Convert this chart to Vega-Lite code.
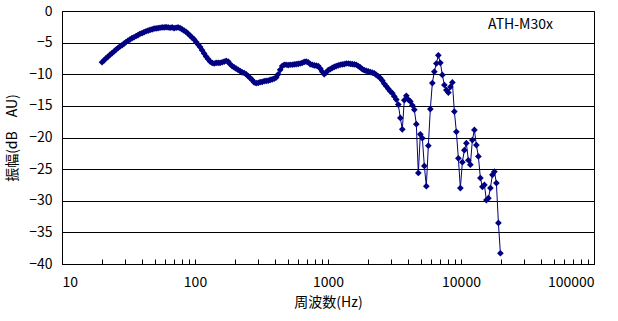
{
  "$schema": "https://vega.github.io/schema/vega-lite/v6.json",
  "width": 532,
  "height": 253,
  "autosize": "none",
  "padding": {"left": 62, "top": 11, "right": 24, "bottom": 57},
  "background": "white",
  "config": {
    "view": {"stroke": "black", "strokeWidth": 1},
    "font": "Noto Sans CJK JP",
    "axis": {"labelFont": "Noto Sans CJK JP", "titleFont": "Noto Sans CJK JP", "labelColor": "black", "titleColor": "black", "labelFontSize": 14, "titleFontSize": 14, "titleFontWeight": "normal", "domainColor": "black", "tickColor": "black"}
  },
  "datasets": {
    "fr": [
      {"f":20,"d":-8.1},{"f":20.7,"d":-7.8},{"f":21.4,"d":-7.5},{"f":22.2,"d":-7.2},{"f":23,"d":-6.9},
      {"f":23.8,"d":-6.65},{"f":24.6,"d":-6.4},{"f":25.5,"d":-6.1},{"f":26.4,"d":-5.85},{"f":27.3,"d":-5.6},
      {"f":28.3,"d":-5.4},{"f":29.3,"d":-5.15},{"f":30.3,"d":-4.9},{"f":31.4,"d":-4.7},{"f":32.5,"d":-4.5},
      {"f":33.6,"d":-4.3},{"f":34.8,"d":-4.15},{"f":36.1,"d":-3.95},{"f":37.3,"d":-3.8},{"f":38.6,"d":-3.6},
      {"f":40,"d":-3.5},{"f":41.4,"d":-3.35},{"f":42.9,"d":-3.2},{"f":44.4,"d":-3.1},{"f":45.9,"d":-3.0},
      {"f":47.6,"d":-2.9},{"f":49.2,"d":-2.8},{"f":51,"d":-2.75},{"f":52.8,"d":-2.7},{"f":54.6,"d":-2.65},
      {"f":56.6,"d":-2.6},{"f":58.6,"d":-2.6},{"f":60.6,"d":-2.55},{"f":62.8,"d":-2.6},{"f":65,"d":-2.65},
      {"f":67.3,"d":-2.6},{"f":69.6,"d":-2.7},{"f":72.1,"d":-2.65},{"f":74.6,"d":-2.6},{"f":77.3,"d":-2.7},
      {"f":80,"d":-2.9},{"f":82.8,"d":-3.1},{"f":85.7,"d":-3.3},{"f":88.8,"d":-3.6},{"f":91.9,"d":-3.9},
      {"f":95.1,"d":-4.2},{"f":98.5,"d":-4.5},{"f":102,"d":-4.9},{"f":105.6,"d":-5.3},{"f":109.3,"d":-5.7},
      {"f":113.1,"d":-6.2},{"f":117.1,"d":-6.7},{"f":121.3,"d":-7.2},{"f":125.5,"d":-7.6},{"f":130,"d":-8.0},
      {"f":134.5,"d":-8.2},{"f":139.3,"d":-8.3},{"f":144.2,"d":-8.2},{"f":149.3,"d":-8.2},{"f":154.5,"d":-8.2},
      {"f":160,"d":-8.1},{"f":165.6,"d":-8.0},{"f":171.5,"d":-7.9},{"f":177.5,"d":-8.0},{"f":183.8,"d":-8.4},
      {"f":190.3,"d":-8.7},{"f":197,"d":-8.9},{"f":203.9,"d":-9.1},{"f":211.1,"d":-9.3},{"f":218.6,"d":-9.5},
      {"f":226.3,"d":-9.7},{"f":234.3,"d":-9.8},{"f":242.5,"d":-10.0},{"f":251.1,"d":-10.3},{"f":259.9,"d":-10.6},
      {"f":269.1,"d":-10.9},{"f":278.6,"d":-11.3},{"f":288.4,"d":-11.4},{"f":298.6,"d":-11.35},{"f":309.1,"d":-11.25},
      {"f":320,"d":-11.2},{"f":331.3,"d":-11.1},{"f":343,"d":-11.05},{"f":355.1,"d":-11.0},{"f":367.6,"d":-10.9},
      {"f":380.5,"d":-10.8},{"f":394,"d":-10.7},{"f":407.9,"d":-10.5},{"f":422.2,"d":-10.0},{"f":437.1,"d":-9.3},
      {"f":452.6,"d":-8.7},{"f":468.5,"d":-8.5},{"f":485,"d":-8.5},{"f":502.1,"d":-8.55},{"f":519.8,"d":-8.5},
      {"f":538.2,"d":-8.5},{"f":557.2,"d":-8.45},{"f":576.8,"d":-8.4},{"f":597.1,"d":-8.35},{"f":618.2,"d":-8.3},
      {"f":640,"d":-8.2},{"f":662.6,"d":-8.05},{"f":685.9,"d":-8.0},{"f":710.1,"d":-8.1},{"f":735.2,"d":-8.4},
      {"f":761.1,"d":-8.5},{"f":787.9,"d":-8.6},{"f":815.7,"d":-8.65},{"f":844.5,"d":-8.7},{"f":874.3,"d":-9.1},
      {"f":905.1,"d":-9.6},{"f":937,"d":-10.0},{"f":970.1,"d":-9.7},{"f":1004.3,"d":-9.35},{"f":1039.7,"d":-9.2},
      {"f":1076.3,"d":-9.0},{"f":1114.3,"d":-8.85},{"f":1153.6,"d":-8.7},{"f":1194.3,"d":-8.6},{"f":1236.4,"d":-8.5},
      {"f":1280,"d":-8.45},{"f":1325.1,"d":-8.4},{"f":1371.9,"d":-8.3},{"f":1420.2,"d":-8.3},{"f":1470.3,"d":-8.35},
      {"f":1522.2,"d":-8.4},{"f":1575.9,"d":-8.45},{"f":1631.4,"d":-8.5},{"f":1689,"d":-8.7},{"f":1748.5,"d":-8.9},
      {"f":1810.2,"d":-9.2},{"f":1874,"d":-9.35},{"f":1940.1,"d":-9.45},{"f":2008.5,"d":-9.55},{"f":2079.4,"d":-9.65},
      {"f":2152.7,"d":-9.75},{"f":2228.6,"d":-9.85},{"f":2307.2,"d":-10.1},{"f":2388.6,"d":-10.35},{"f":2472.8,"d":-10.6},
      {"f":2560,"d":-11.0},{"f":2650.3,"d":-11.5},{"f":2743.7,"d":-11.9},{"f":2840.5,"d":-12.3},{"f":2940.7,"d":-12.7},
      {"f":3044.4,"d":-13.0},{"f":3151.7,"d":-13.5},{"f":3262.9,"d":-14.0},{"f":3378,"d":-14.8},{"f":3497,"d":-16.9},
      {"f":3620.4,"d":-18.7},{"f":3748.1,"d":-14.1},{"f":3880.2,"d":-13.4},{"f":4017.1,"d":-14.0},{"f":4158.7,"d":-14.3},
      {"f":4305.4,"d":-14.9},{"f":4457.2,"d":-15.6},{"f":4614.4,"d":-17.9},{"f":4777.1,"d":-25.6},{"f":4945.6,"d":-19.5},
      {"f":5120,"d":-20.1},{"f":5300.5,"d":-24.5},{"f":5487.5,"d":-27.7},{"f":5681,"d":-21.3},{"f":5881.3,"d":-15.5},
      {"f":6088.8,"d":-11.4},{"f":6303.4,"d":-9.6},{"f":6525.7,"d":-8.3},{"f":6755.9,"d":-7.0},{"f":6994.1,"d":-8.2},
      {"f":7240.8,"d":-10.1},{"f":7496.1,"d":-11.7},{"f":7760.5,"d":-12.5},{"f":8034.2,"d":-12.9},{"f":8317.4,"d":-12.0},
      {"f":8610.8,"d":-11.3},{"f":8914.6,"d":-15.9},{"f":9228.9,"d":-19.1},{"f":9554.3,"d":-23.3},{"f":9891.2,"d":-28.0},
      {"f":10240,"d":-23.9},{"f":10601,"d":-22.0},{"f":10975,"d":-20.9},{"f":11362,"d":-23.6},{"f":11763,"d":-24.3},
      {"f":12178,"d":-20.4},{"f":12607,"d":-18.8},{"f":13051,"d":-21.2},{"f":13512,"d":-23.0},{"f":13988,"d":-26.4},
      {"f":14482,"d":-27.8},{"f":14992,"d":-27.5},{"f":15521,"d":-29.9},{"f":16068,"d":-29.6},{"f":16635,"d":-28.0},
      {"f":17222,"d":-25.9},{"f":17829,"d":-25.4},{"f":18458,"d":-27.2},{"f":19109,"d":-33.5},{"f":19782,"d":-38.3}
    ],
    "lab": [{"f": 15960, "d": -2.2, "name": "ATH-M30x"}]
  },
  "encoding": {
    "x": {
      "field": "f", "type": "quantitative",
      "scale": {"type": "log", "domain": [10, 100000], "nice": false},
      "axis": {
        "values": [10,20,30,40,50,60,70,80,90,100,200,300,400,500,600,700,800,900,1000,2000,3000,4000,5000,6000,7000,8000,9000,10000,20000,30000,40000,50000,60000,70000,80000,90000,100000],
        "format": "d",
        "labelExpr": "indexof([10,100,1000,10000,100000], datum.value) >= 0 ? datum.label : ''",
        "grid": false,
        "ticks": true,
        "tickSize": -5,
        "tickWidth": 1,
        "zindex": 1,
        "labelPadding": 16,
        "labelOverlap": false,
        "title": "周波数(Hz)",
        "titlePadding": 6
      }
    },
    "y": {
      "field": "d", "type": "quantitative",
      "scale": {"domain": [-40, 0], "nice": false},
      "axis": {
        "values": [-40,-35,-30,-25,-20,-15,-10,-5,0],
        "grid": true, "gridColor": "black", "gridOpacity": 1, "gridWidth": 1,
        "ticks": false,
        "labelPadding": 10,
        "title": "振幅(dB　AU)",
        "titlePadding": 9
      }
    }
  },
  "layer": [
    {"data": {"name": "fr"}, "mark": {"type": "line", "color": "#000080", "strokeWidth": 1}},
    {"data": {"name": "fr"}, "mark": {"type": "point", "shape": "diamond", "filled": true, "color": "#000080", "size": 45, "opacity": 1}},
    {"data": {"name": "lab"}, "mark": {"type": "text", "align": "left", "baseline": "middle", "fontSize": 14, "color": "black", "font": "Noto Sans CJK JP"}, "encoding": {"text": {"field": "name"}}}
  ]
}
